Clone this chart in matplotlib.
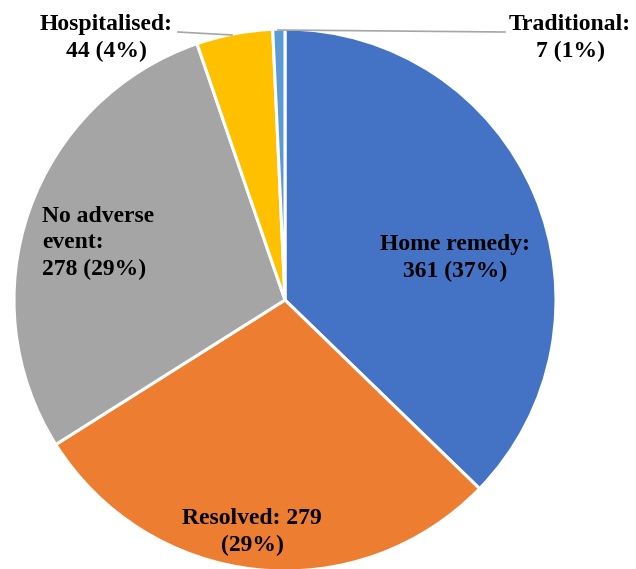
import matplotlib
matplotlib.use("Agg")
import matplotlib.pyplot as plt

categories = ["Home remedy", "Resolved", "No adverse event", "Hospitalised", "Traditional"]
values = [361, 279, 278, 44, 7]
percents = [37, 29, 29, 4, 1]
colors = ["#4472C4", "#ED7D31", "#A5A5A5", "#FFC000", "#5B9BD5"]

W, H = 636, 569
cx, cy, R = 285, 300, 271

fig = plt.figure(figsize=(W / 100, H / 100), dpi=100)
ax = fig.add_axes([0, 0, 1, 1])

ax.pie(values, colors=colors, startangle=90, counterclock=False, radius=1.0,
       wedgeprops=dict(edgecolor="white", linewidth=2.2))
ax.set_aspect("auto")
ax.set_xlim(-cx / R, (W - cx) / R)
ax.set_ylim(-(H - cy) / R, cy / R)
ax.axis("off")

def px(x, y):
    return ((x - cx) / R, (cy - y) / R)

font = dict(family=["Liberation Serif", "DejaVu Serif"], fontweight="bold", fontsize=17, color="black")

texts = [
    ("Home remedy:\n361 (37%)", 455, 258, "center"),
    ("Resolved: 279\n(29%)", 252, 532, "center"),
    ("No adverse\nevent:\n278 (29%)", 42, 243, "left"),
    ("Hospitalised:\n44 (4%)", 106, 38, "center"),
    ("Traditional:\n7 (1%)", 570, 38, "center"),
]
for t, x, y, ha in texts:
    ax.text(*px(x, y), t, ha=ha, va="center", multialignment=ha, linespacing=1.35, **font)

# leader lines
for (x1, y1), (x2, y2) in [((178, 32), (232, 35)), ((278, 30), (505, 32))]:
    a, b = px(x1, y1)
    c, d = px(x2, y2)
    ax.plot([a, c], [b, d], color="#A6A6A6", linewidth=1.2)

fig.savefig("out.png", dpi=100)
